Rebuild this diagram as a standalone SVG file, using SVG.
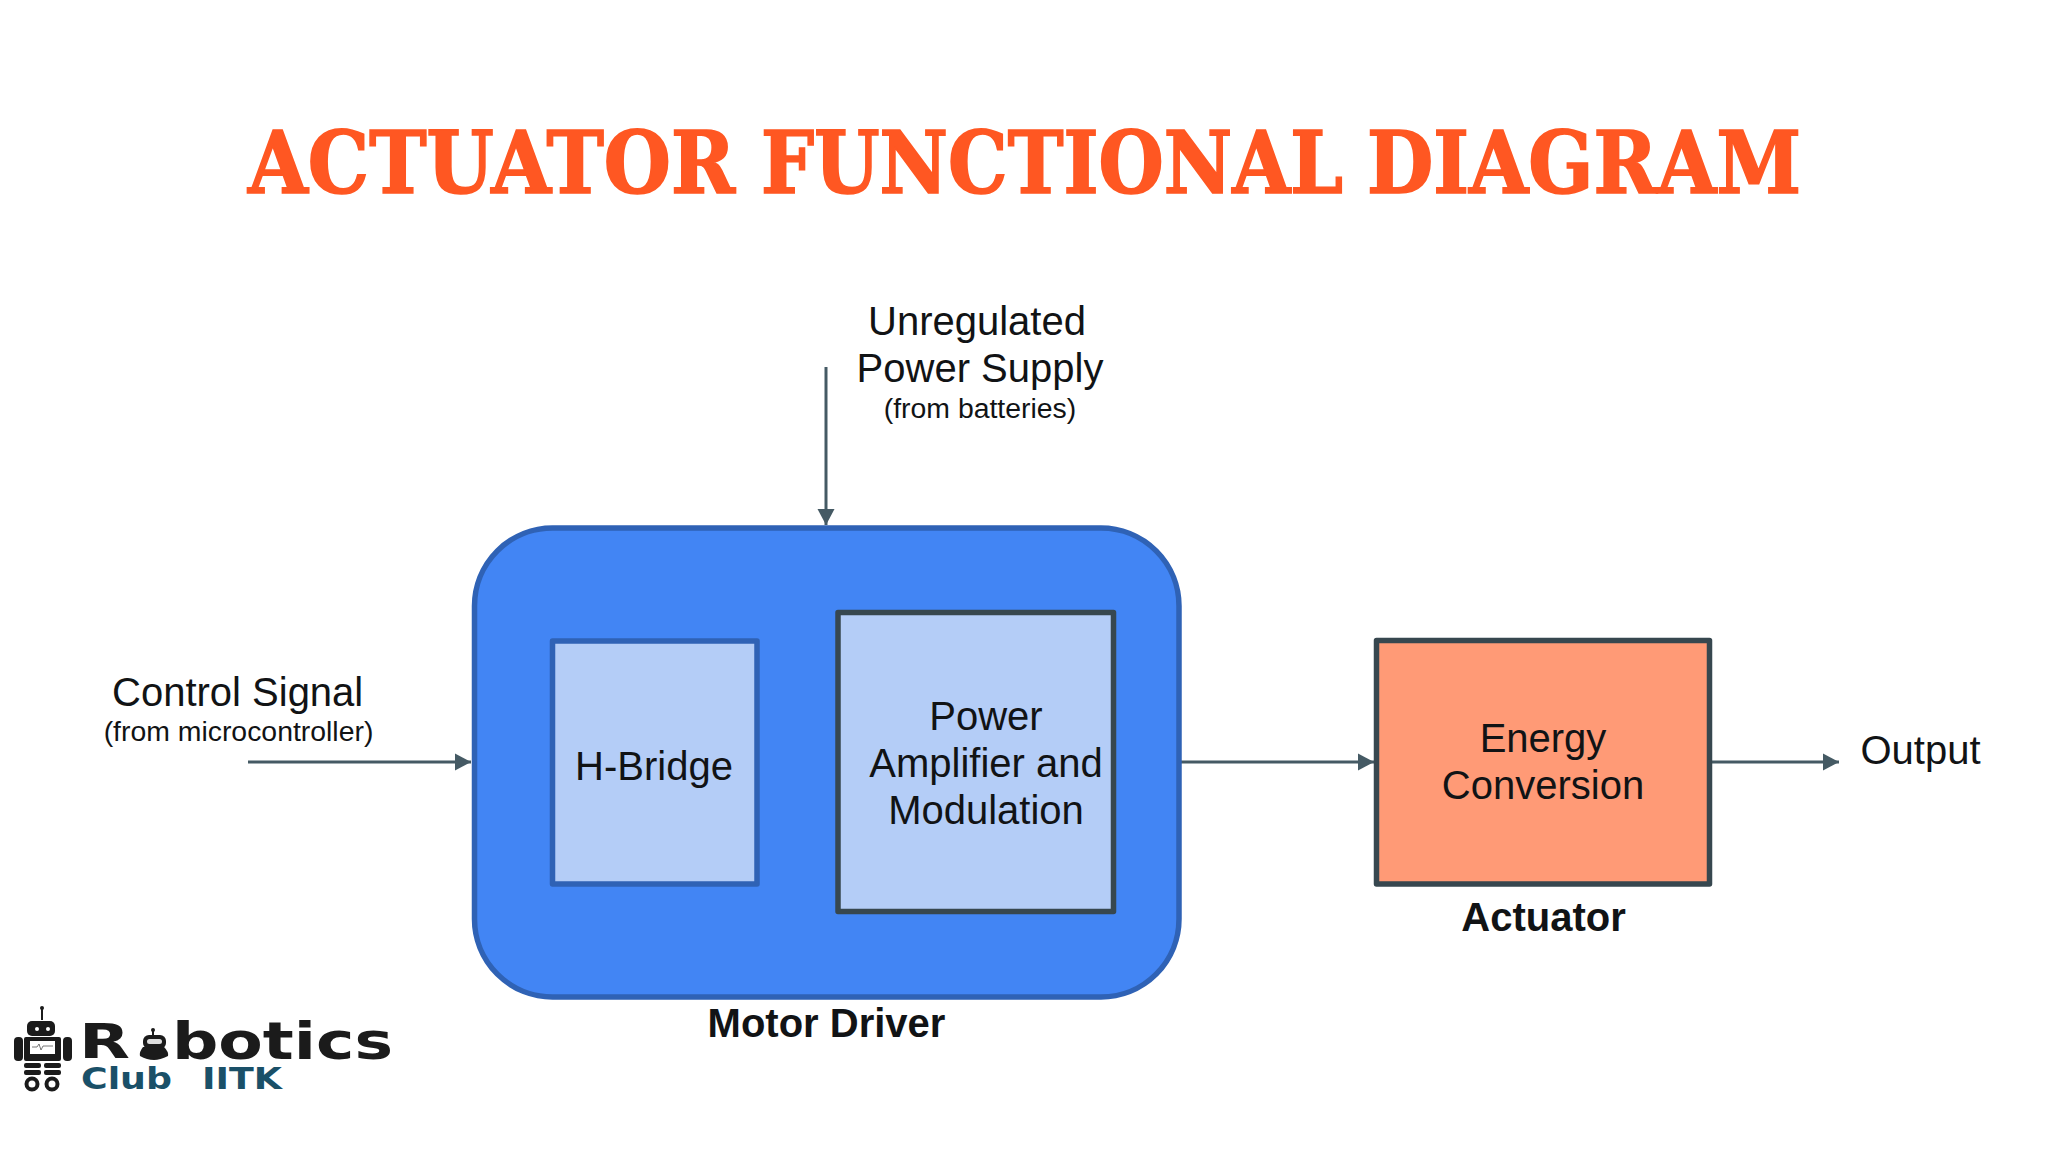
<svg xmlns="http://www.w3.org/2000/svg" width="2048" height="1152" viewBox="0 0 2048 1152">
<style>
text{font-family:"Liberation Sans",Arial,sans-serif;fill:#111315}
.l{font-size:40px}.s{font-size:28.4px}.b{font-size:40px;font-weight:700}
.m{text-anchor:middle}
.title{font-family:"DejaVu Serif Condensed","DejaVu Serif",serif;font-weight:700;font-size:86px;fill:#ff5722;stroke:#ff5722;stroke-width:1.6px}
.c{stroke:#455a64;stroke-width:3;fill:none;marker-end:url(#ah)}
.box{stroke-width:5.5;stroke-linejoin:round}
.k{fill:#1b1b1b}
.logo{font-family:"DejaVu Sans",sans-serif;font-weight:700;fill:#1b1b1b}
</style>
<defs><marker id="ah" markerUnits="userSpaceOnUse" markerWidth="16" markerHeight="18" refX="16" refY="9" orient="auto"><path d="M0 0.5L16 9L0 17.5Z" fill="#455a64"/></marker></defs>
<rect width="2048" height="1152" fill="#fff"/>
<text id="title" class="title" y="193"><tspan x="248" textLength="487" lengthAdjust="spacingAndGlyphs">ACTUATOR</tspan> <tspan x="761" textLength="582" lengthAdjust="spacingAndGlyphs">FUNCTIONAL</tspan> <tspan x="1367" textLength="434" lengthAdjust="spacingAndGlyphs">DIAGRAM</tspan></text>
<g id="connectors">
<path class="c" d="M248 762H471"/>
<path class="c" d="M826 367V525"/>
<path class="c" d="M1180 762H1374"/>
<path class="c" d="M1711 762H1839"/>
</g>
<g id="motor-driver">
<rect class="box" x="474.5" y="528" width="704.5" height="469" rx="78" fill="#4285f4" stroke="#2f62b5"/>
<text class="b m" x="826.5" y="1037">Motor Driver</text>
</g>
<g id="h-bridge">
<rect class="box" x="552.5" y="641" width="204.5" height="243" fill="#b4cdf7" stroke="#2f62b5"/>
<text class="l m" x="654" y="780">H-Bridge</text>
</g>
<g id="power-amplifier">
<rect class="box" x="838" y="612.5" width="275.5" height="299" fill="#b4cdf7" stroke="#37474f"/>
<text class="l m" x="986" y="730">Power</text>
<text class="l m" x="986" y="777">Amplifier and</text>
<text class="l m" x="986" y="824">Modulation</text>
</g>
<g id="actuator">
<rect class="box" x="1376.5" y="640.5" width="333" height="243.5" fill="#ff9a76" stroke="#37474f"/>
<text class="l m" x="1543" y="752">Energy</text>
<text class="l m" x="1543" y="799">Conversion</text>
<text class="b m" x="1543.5" y="931">Actuator</text>
</g>
<g id="control-signal">
<text class="l" x="112" y="706">Control Signal</text>
<text class="s m" x="238.5" y="741">(from microcontroller)</text>
</g>
<g id="power-supply">
<text class="l m" x="977" y="335">Unregulated</text>
<text class="l m" x="980" y="382">Power Supply</text>
<text class="s m" x="980" y="418">(from batteries)</text>
</g>
<g id="output"><text class="l" x="1860.5" y="764">Output</text></g>
<g id="logo">
<rect class="k" x="41" y="1007" width="2" height="13"/><circle class="k" cx="42" cy="1008" r="2"/>
<rect class="k" x="27" y="1021" width="28" height="15" rx="5"/>
<circle cx="37" cy="1029" r="2" fill="#fff"/><circle cx="48" cy="1029" r="2" fill="#fff"/>
<rect class="k" x="24" y="1037" width="37" height="24" rx="2"/>
<rect class="k" x="14" y="1037" width="9" height="24" rx="4"/><rect class="k" x="63" y="1037" width="9" height="24" rx="4"/>
<rect x="30" y="1041" width="25" height="13" fill="#fff"/>
<path d="M32 1047H37L39 1044L41 1050L43 1046H53" fill="none" stroke="#555" stroke-width=".8"/>
<rect class="k" x="24" y="1063" width="17" height="5" rx="2"/><rect class="k" x="44" y="1063" width="17" height="5" rx="2"/>
<rect class="k" x="24" y="1070" width="17" height="5" rx="2"/><rect class="k" x="44" y="1070" width="17" height="5" rx="2"/>
<circle cx="32" cy="1084" r="5.5" fill="#fff" stroke="#1b1b1b" stroke-width="4"/><circle cx="52" cy="1084" r="5.5" fill="#fff" stroke="#1b1b1b" stroke-width="4"/>
<rect class="k" x="152" y="1030" width="2" height="6"/><circle class="k" cx="153" cy="1030" r="2"/>
<rect class="k" x="143" y="1035" width="23" height="14" rx="6"/>
<path class="k" d="M143 1047H164Q169 1052 168 1056Q160 1060 154 1060Q147 1060 140 1056Q139 1052 143 1047Z"/>
<rect x="147" y="1039" width="15" height="5" rx="2.5" fill="#ddd"/>
<text class="logo" x="79" y="1058" font-size="48" textLength="51" lengthAdjust="spacingAndGlyphs">R</text>
<text class="logo" x="172" y="1059" font-size="52" textLength="221" lengthAdjust="spacingAndGlyphs">botics</text>
<text class="logo" x="81" y="1089" font-size="30" textLength="91" lengthAdjust="spacingAndGlyphs" style="fill:#1a5068">Club</text>
<text class="logo" x="202" y="1089" font-size="30" textLength="80" lengthAdjust="spacingAndGlyphs" style="fill:#1a5068">IITK</text>
</g>
</svg>
